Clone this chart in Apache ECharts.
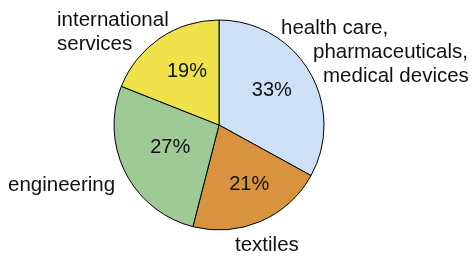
<!DOCTYPE html>
<html>
<head>
<meta charset="utf-8">
<script src="https://cdn.jsdelivr.net/npm/echarts@6/dist/echarts.min.js"></script>
<style>
	html, body { margin: 0; padding: 0; background: #fff; }
	#chart { width: 476px; height: 258px; }
</style>
</head>
<body>
<div id="chart"></div>
<script>
var categories = ['health care, pharmaceuticals, medical devices', 'textiles', 'engineering', 'international services'];
var labelLines = [['health care,', 'pharmaceuticals,', 'medical devices'], ['textiles'], ['engineering'], ['international', 'services']];
var shares = [33, 21, 27, 19];
var colors = ['#cde0f5', '#d8933e', '#9dca95', '#efe24b'];

// where the outside names sit (top-left of each text block)
var namePos = [
	{x: 281, y: 16, indent: [0, 32, 42]},
	{x: 235, y: 233, indent: [0]},
	{x: 8, y: 173, indent: [0]},
	{x: 57, y: 8, indent: [0, 0]}
];
// small nudges for the percentages
var pctNudge = [[-4, -1], [4, -1], [10, -7], [5, 1]];

var FONT = '"Liberation Sans", Arial, Helvetica, sans-serif';

var pieData = [];
var pctData = [];
for (var i = 0; i < shares.length; i++) {
	var lines = labelLines[i].map(function(t, j) {
		return '{p' + namePos[i].indent[j] + '|' + t + '}';
	});
	pieData.push({
		name: categories[i],
		value: shares[i],
		itemStyle: {color: colors[i]},
		label: {formatter: lines.join('\n')}
	});
	pctData.push({name: categories[i], value: shares[i]});
}

var rich = {};
[0, 32, 42].forEach(function(p) {
	rich['p' + p] = {
		fontFamily: FONT,
		fontSize: 20.5,
		color: '#111',
		lineHeight: 24,
		padding: [0, 0, 0, p]
	};
});

var chart = echarts.init(document.getElementById('chart'), null, {renderer: 'canvas'});
var option = {
	animation: false,
	series: [
		{
			type: 'pie',
			center: [219, 125],
			radius: 105,
			startAngle: 90,
			clockwise: true,
			silent: true,
			itemStyle: {borderColor: '#000', borderWidth: 1},
			label: {
				show: true,
				position: 'outside',
				overflow: 'none',
				width: 300,
				bleedMargin: 0,
				rich: rich
			},
			labelLine: {show: false},
			labelLayout: function(params) {
				var p = namePos[params.dataIndex];
				return {x: p.x, y: p.y, align: 'left', verticalAlign: 'top'};
			},
			data: pieData
		},
		{
			// transparent overlay, only used to put the percentages a bit further out
			type: 'pie',
			center: [219, 125],
			radius: 126,
			startAngle: 90,
			clockwise: true,
			silent: true,
			itemStyle: {color: 'rgba(0,0,0,0)', borderWidth: 0},
			label: {
				show: true,
				position: 'inside',
				formatter: '{c}%',
				fontFamily: FONT,
				fontSize: 20,
				color: '#111'
			},
			labelLine: {show: false},
			labelLayout: function(params) {
				var n = pctNudge[params.dataIndex];
				return {dx: n[0], dy: n[1]};
			},
			data: pctData
		}
	]
};
chart.setOption(option);
</script>
</body>
</html>
